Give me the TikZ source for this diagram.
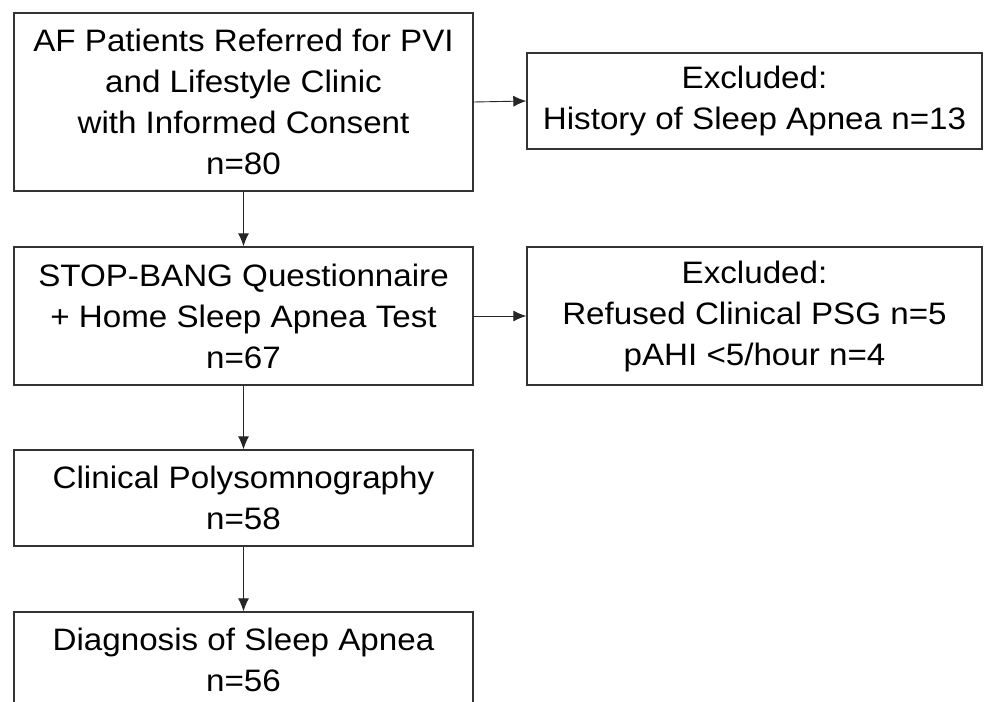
\documentclass[tikz,border=0pt]{standalone}
\usepackage{fontspec}
\setmainfont[FakeStretch=1.07]{Liberation Sans}
\usetikzlibrary{arrows.meta}

\begin{document}
\begin{tikzpicture}[x=1pt,y=-1pt,
    box/.style={draw=black!80, line width=1.4pt, inner sep=0pt, align=center,
        font=\fontsize{31}{41}\selectfont},
    flow/.style={-{Latex[length=13pt,width=11pt]}, black!85, line width=0.9pt}]

    \useasboundingbox (0,0) rectangle (984,701);

    \node[box, minimum width=459pt, minimum height=178pt] (patients) at (243.5,102)
        {AF Patients Referred for PVI\\and Lifestyle Clinic\\with Informed Consent\\n=80};
    \node[box, minimum width=455pt, minimum height=96pt] (excl1) at (754.5,101)
        {Excluded:\\History of Sleep Apnea n=13};
    \node[box, minimum width=459pt, minimum height=138pt] (stopbang) at (243.5,316)
        {STOP-BANG Questionnaire\\+ Home Sleep Apnea Test\\n=67};
    \node[box, minimum width=455pt, minimum height=138pt] (excl2) at (754.5,316)
        {Excluded:\\Refused Clinical PSG n=5\\pAHI <5/hour n=4};
    \node[box, minimum width=459pt, minimum height=96pt] (psg) at (243.5,498)
        {Clinical Polysomnography\\n=58};
    \node[box, minimum width=459pt, minimum height=96pt] (diag) at (243.5,660)
        {Diagnosis of Sleep Apnea\\n=56};

    \draw[flow] (patients.east) -- (excl1.west);
    \draw[flow] (patients) -- (stopbang);
    \draw[flow] (stopbang.east) -- (excl2.west);
    \draw[flow] (stopbang) -- (psg);
    \draw[flow] (psg) -- (diag);

\end{tikzpicture}
\end{document}
